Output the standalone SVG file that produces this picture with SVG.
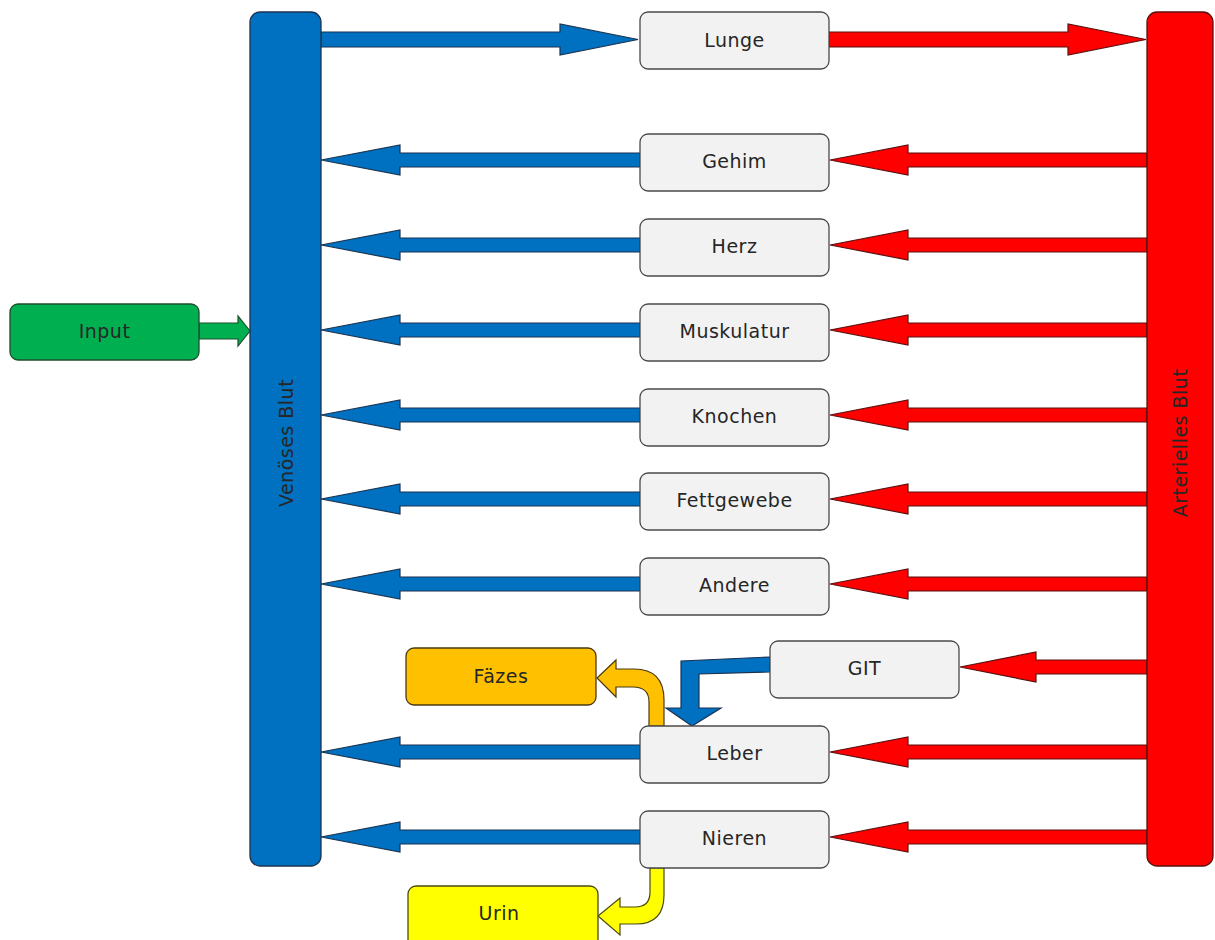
<svg xmlns="http://www.w3.org/2000/svg" width="1215" height="940" viewBox="0 0 1215 940">
<style>
text{font-family:"DejaVu Sans","Liberation Sans",sans-serif;font-size:19px;letter-spacing:0.5px;fill:#262626;text-anchor:middle;dominant-baseline:central}
.organ{fill:#F2F2F2;stroke:#4a4a4a;stroke-width:1.3}
.ab{fill:#0070C0;stroke:#1b3350;stroke-width:1.2}
.ar{fill:#FF0000;stroke:#5a1010;stroke-width:1.2}
</style>
<rect width="1215" height="940" fill="#ffffff"/>
<g id="connectors">
  <!-- top arrows -->
  <polygon class="ab" points="321,32 560,32 560,24 638,39.5 560,55 560,47 321,47"/>
  <polygon class="ar" points="829,32 1068,32 1068,24 1146,39.5 1068,55 1068,47 829,47"/>
  <!-- blue arrows to venous -->
  <polygon class="ab" points="640,153 400,153 400,145 321,160 400,175 400,167 640,167"/>
  <polygon class="ab" points="640,238 400,238 400,230 321,245 400,260 400,252 640,252"/>
  <polygon class="ab" points="640,323 400,323 400,315 321,330 400,345 400,337 640,337"/>
  <polygon class="ab" points="640,408 400,408 400,400 321,415 400,430 400,422 640,422"/>
  <polygon class="ab" points="640,492 400,492 400,484 321,499 400,514 400,506 640,506"/>
  <polygon class="ab" points="640,577 400,577 400,569 321,584 400,599 400,591 640,591"/>
  <polygon class="ab" points="640,745 400,745 400,737 321,752 400,767 400,759 640,759"/>
  <polygon class="ab" points="640,830 400,830 400,822 321,837 400,852 400,844 640,844"/>
  <!-- red arrows from arterial -->
  <polygon class="ar" points="1147,153 908,153 908,145 830,160 908,175 908,167 1147,167"/>
  <polygon class="ar" points="1147,238 908,238 908,230 830,245 908,260 908,252 1147,252"/>
  <polygon class="ar" points="1147,323 908,323 908,315 830,330 908,345 908,337 1147,337"/>
  <polygon class="ar" points="1147,408 908,408 908,400 830,415 908,430 908,422 1147,422"/>
  <polygon class="ar" points="1147,492 908,492 908,484 830,499 908,514 908,506 1147,506"/>
  <polygon class="ar" points="1147,577 908,577 908,569 830,584 908,599 908,591 1147,591"/>
  <polygon class="ar" points="1147,660 1036,660 1036,652 960,667 1036,682 1036,674 1147,674"/>
  <polygon class="ar" points="1147,745 908,745 908,737 830,752 908,767 908,759 1147,759"/>
  <polygon class="ar" points="1147,830 908,830 908,822 830,837 908,852 908,844 1147,844"/>
  <!-- input arrow -->
  <polygon fill="#00B050" stroke="#1d4d2a" stroke-width="1.2" points="199,323 238,323 238,316 250,331 238,346 238,339 199,339"/>
  <!-- GIT to Leber -->
  <polygon class="ab" points="770,657 681,661 681,708 666,708 692,726 721,708 699,708 699,674 770,672"/>
  <!-- Leber to Faezes -->
  <path fill="#FFC000" stroke="#4a3a10" stroke-width="1.2" d="M649,726 L649,702 Q649,687 633,687 L616,687 L616,697 L597,678 L616,660 L616,669 L634,669 Q664,669 664,700 L664,726 Z"/>
  <!-- Nieren to Urin -->
  <path fill="#FFFF00" stroke="#4a4a10" stroke-width="1.2" d="M650,868 L650,892 Q650,907 635,907 L620,907 L620,898 L598,916 L620,935 L620,924 L636,924 Q664,924 664,895 L664,868 Z"/>
</g>
<g id="venous">
  <rect x="250" y="12" width="71" height="854" rx="10" fill="#0070C0" stroke="#1b3350" stroke-width="1.3"/>
  <text transform="translate(285.5,443) rotate(-90)">Venöses Blut</text>
</g>
<g id="arterial">
  <rect x="1147" y="12" width="66" height="854" rx="10" fill="#FF0000" stroke="#5a1010" stroke-width="1.3"/>
  <text transform="translate(1180,443) rotate(-90)">Arterielles Blut</text>
</g>
<g id="input">
  <rect x="10" y="304" width="189" height="56" rx="8" fill="#00B050" stroke="#1d4d2a" stroke-width="1.3"/>
  <text x="104.5" y="331">Input</text>
</g>
<g id="lunge"><rect class="organ" x="640" y="12" width="189" height="57" rx="8"/><text x="734.5" y="40">Lunge</text></g>
<g id="gehim"><rect class="organ" x="640" y="134" width="189" height="57" rx="8"/><text x="734.5" y="161">Gehim</text></g>
<g id="herz"><rect class="organ" x="640" y="219" width="189" height="57" rx="8"/><text x="734.5" y="246">Herz</text></g>
<g id="muskulatur"><rect class="organ" x="640" y="304" width="189" height="57" rx="8"/><text x="734.5" y="331">Muskulatur</text></g>
<g id="knochen"><rect class="organ" x="640" y="389" width="189" height="57" rx="8"/><text x="734.5" y="416">Knochen</text></g>
<g id="fettgewebe"><rect class="organ" x="640" y="473" width="189" height="57" rx="8"/><text x="734.5" y="500">Fettgewebe</text></g>
<g id="andere"><rect class="organ" x="640" y="558" width="189" height="57" rx="8"/><text x="734.5" y="585">Andere</text></g>
<g id="git"><rect class="organ" x="770" y="641" width="189" height="57" rx="8"/><text x="864.5" y="668">GIT</text></g>
<g id="leber"><rect class="organ" x="640" y="726" width="189" height="57" rx="8"/><text x="734.5" y="753">Leber</text></g>
<g id="nieren"><rect class="organ" x="640" y="811" width="189" height="57" rx="8"/><text x="734.5" y="838">Nieren</text></g>
<g id="faezes">
  <rect x="406" y="648" width="190" height="57" rx="8" fill="#FFC000" stroke="#4a3a10" stroke-width="1.3"/>
  <text x="501" y="676">Fäzes</text>
</g>
<g id="urin">
  <rect x="408" y="886" width="190" height="62" rx="8" fill="#FFFF00" stroke="#4a4a10" stroke-width="1.3"/>
  <text x="499" y="913">Urin</text>
</g>
</svg>
